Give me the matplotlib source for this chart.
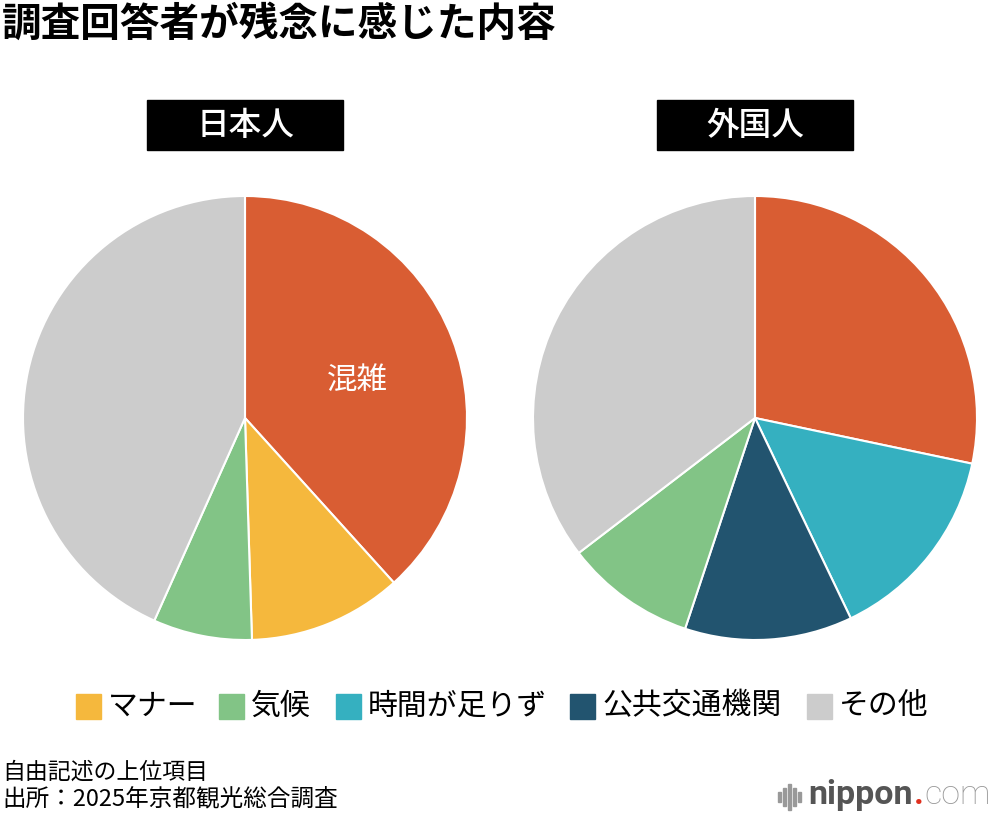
import matplotlib
matplotlib.use("Agg")
import matplotlib.pyplot as plt
from matplotlib.patches import Rectangle

plt.rcParams["font.family"] = ["Noto Sans CJK JP", "DejaVu Sans"]

# data (percent of responses)
jp_labels = ["混雑", "マナー", "気候", "その他"]
jp_values = [38.3, 11.2, 7.2, 43.3]
fg_labels = ["混雑", "時間が足りず", "公共交通機関", "気候", "その他"]
fg_values = [28.3, 14.6, 12.2, 9.5, 35.4]

colors = {
    "混雑": "#D95D33",
    "マナー": "#F5B83D",
    "気候": "#82C486",
    "時間が足りず": "#35B0C0",
    "公共交通機関": "#22546F",
    "その他": "#CCCCCC",
}
legend_items = ["マナー", "気候", "時間が足りず", "公共交通機関", "その他"]
legend_x = [76, 219, 336, 570, 807]  # px positions of legend squares

W, H = 1000, 818
fig = plt.figure(figsize=(W / 100, H / 100), dpi=100)


def fx(px):
    return px / W


def fy(py):
    return 1 - py / H


fig.text(fx(2), fy(24), "調査回答者が残念に感じた内容", fontsize=28.5,
         fontweight="bold", va="center", ha="left")


def draw_pie(cx, title, labels, values):
    r = 222
    ax = fig.add_axes([fx(cx - r), fy(418 + r), r * 2 / W, r * 2 / H])
    ax.pie(values, colors=[colors[l] for l in labels],
           startangle=90, counterclock=False,
           wedgeprops=dict(edgecolor="white", linewidth=1.5))
    ax.set_xlim(-1, 1)
    ax.set_ylim(-1, 1)
    ax.set_aspect("equal")
    # title box
    fig.patches.append(Rectangle((fx(cx - 98), fy(150)), 196 / W, 50 / H,
                                 transform=fig.transFigure, color="black"))
    fig.text(fx(cx), fy(126), title, color="white", fontsize=23.5,
             fontweight="medium", ha="center", va="center")
    return ax


ax1 = draw_pie(245, "日本人", jp_labels, jp_values)
ax1.text(0.505, 0.17, "混雑", color="white", fontsize=22, ha="center",
         va="center")
ax2 = draw_pie(755, "外国人", fg_labels, fg_values)

# legend
for name, x in zip(legend_items, legend_x):
    fig.patches.append(Rectangle((fx(x), fy(719)), 25 / W, 25 / H,
                                 transform=fig.transFigure,
                                 color=colors[name]))
    fig.text(fx(x + 32), fy(706), name, fontsize=21.5, ha="left",
             va="center")

# footer
fig.text(fx(2), fy(772), "自由記述の上位項目", fontsize=16.5, ha="left",
         va="center")
fig.text(fx(2), fy(799), "出所：2025年京都観光総合調査", fontsize=17,
         ha="left", va="center")

# logo
for i, h in enumerate([10, 18, 26, 18, 10]):
    fig.patches.append(Rectangle((fx(778 + i * 5), fy(797 + h / 2)),
                                 2.5 / W, h / H, transform=fig.transFigure,
                                 color="#999999"))
renderer = fig.canvas.get_renderer()
x0 = 808
for s, c, w in [("nippon", "#555555", "bold"), (".", "#E0301E", "bold"),
                ("com", "#9A9A9A", "light")]:
    t = fig.text(fx(x0), fy(795), s, fontsize=24.5, fontweight=w, color=c,
                 ha="left", va="center", family="Roboto")
    x0 += t.get_window_extent(renderer).width + 1

fig.savefig("out.png", dpi=100, facecolor="white")
